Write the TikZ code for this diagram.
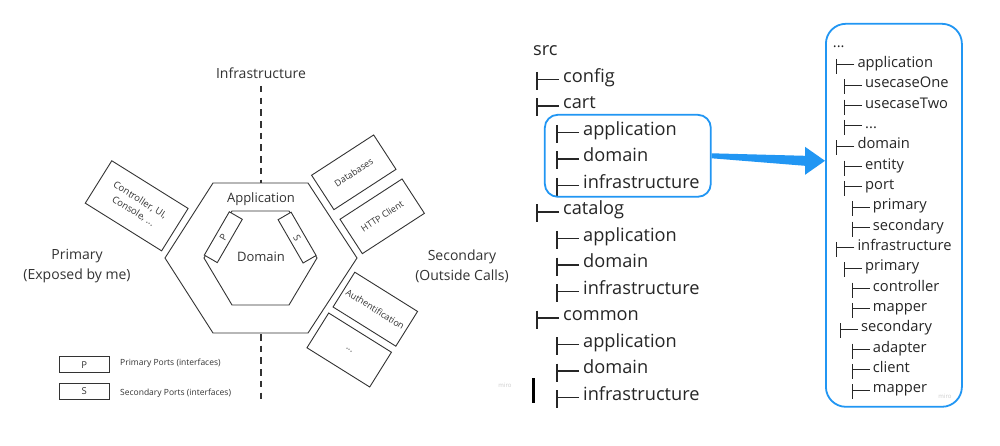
\documentclass[tikz,border=0pt]{standalone}
\usepackage{fontspec}
\setmainfont{Open Sans}
\usetikzlibrary{arrows.meta}
\definecolor{miroblue}{RGB}{33,150,243}
\definecolor{ink}{RGB}{51,51,51}

\begin{document}
\begin{tikzpicture}[x=1pt, y=-1pt,
	shape line/.style={draw=ink, line width=0.9pt},
	label text/.style={text=ink, align=center, font=\fontsize{14}{20}\selectfont},
	adapter/.style={draw=ink, line width=0.9pt, fill=white, minimum width=74, minimum height=41, inner sep=0pt, align=center, text=ink, font=\fontsize{9}{12.8}\selectfont},
	port/.style={draw=ink, line width=0.9pt, fill=white, minimum width=50, minimum height=15, inner sep=0pt, text=ink, font=\fontsize{9.5}{11}\selectfont},
	legend text/.style={anchor=mid west, inner sep=0pt, text=ink, font=\fontsize{8.5}{10}\selectfont},
	axis line/.style={ink, line width=2pt, dash pattern=on 6.5pt off 5.2pt},
	midtree/.style={anchor=mid west, inner sep=0pt, text=black!85, font=\fontsize{18.2}{22}\selectfont},
	righttree/.style={anchor=mid west, inner sep=0pt, text=black!85, font=\fontsize{14.7}{18}\selectfont},
	tee/.style={black!85, line width=1.3pt},
	bluebox/.style={draw=miroblue, line width=1.8pt, inner sep=0pt},
	watermark/.style={text=black!20, font=\fontsize{6}{7}\selectfont}
]
	\useasboundingbox (0,0) rectangle (1000,446);
	\fill[white] (0,0) rectangle (1000,446);
	
	% hexagon
	\draw[axis line] (261,86) -- (261,183);
	\draw[axis line] (261,334) -- (261,399);
	\draw[shape line] (213,183) -- (308,183) -- (357,258) -- (308,333) -- (213,333) -- (165,258) -- cycle;
	\draw[shape line] (232,211) -- (289,211) -- (317,258) -- (289,305) -- (232,305) -- (204,258) -- cycle;
	
	\node[label text] (infra) at (261,73) {Infrastructure};
	\node[label text, font=\fontsize{13}{16}\selectfont] (app) at (261,199) {Application};
	\node[label text, font=\fontsize{13}{16}\selectfont] (dom) at (261,257) {Domain};
	\node[label text] (primary) at (77,266) {Primary\\(Exposed by me)};
	\node[label text] (secondary) at (462,266) {Secondary\\(Outside Calls)};
	
	\node[port, rotate=60] (pport) at (223.3,237.2) {P};
	\node[port, rotate=-60] (sport) at (297.1,237.6) {S};
	
	\node[adapter, rotate=-32, minimum width=90, minimum height=50, font=\fontsize{9.5}{12.8}\selectfont] (ui) at (136.7,205.8) {Controller, UI,\\Console, ...};
	\node[adapter, rotate=33] (db) at (353.8,172.3) {Databases};
	\node[adapter, rotate=33] (http) at (382.2,216.3) {HTTP Client};
	\node[adapter, rotate=-32] (auth) at (375.3,309.2) {Authentification};
	\node[adapter, rotate=-32] (more) at (349.2,350) {...};
	
	% legend
	\node[port, minimum height=16] (legP) at (84.3,364.7) {P};
	\node[port, minimum height=16] (legS) at (84.3,391.3) {S};
	\node[legend text] (legPtext) at (120,363.3) {Primary Ports (interfaces)};
	\node[legend text] (legStext) at (120,392.7) {Secondary Ports (interfaces)};
	
	% package tree
	\node[midtree] (src) at (533,53) {src};
	\foreach \n/\lvl/\row/\txt in {config/1/1/config, cart/1/2/cart, cart-app/2/3/application, cart-dom/2/4/domain, cart-inf/2/5/infrastructure, catalog/1/6/catalog, cat-app/2/7/application, cat-dom/2/8/domain, cat-inf/2/9/infrastructure, common/1/10/common, com-app/2/11/application, com-dom/2/12/domain, com-inf/2/13/infrastructure}
	{
		\node[midtree] (\n) at ({543+20*\lvl},{53+26.5*\row}) {\txt};
		\draw[tee] ([xshift=-4pt]\n.mid west) -- ++(-22pt,0pt) ++(0pt,7.5pt) -- ++(0pt,-18pt);
	}
	\draw[line width=3pt] (533.3,378) -- (533.3,403.3);
	\node[watermark] (wm1) at (505,385) {miro};
	
	\node[bluebox, rounded corners=13pt, minimum width=166, minimum height=82] (cartsel) at (627.8,155.8) {};
	
	% detail of one module
	\node[bluebox, rounded corners=20pt, minimum width=136, minimum height=383] (detail) at (893.9,215.3) {};
	\node[righttree] (r-top) at (832.7,44.5) {...};
	\foreach \n/\x/\row/\txt in {r-app/857.3/1/application, r-uc1/865/2/usecaseOne, r-uc2/865/3/usecaseTwo, r-ucx/865/4/{...}, r-dom/857.3/5/domain, r-ent/865/6/entity, r-port/865/7/port, r-pri/872.7/8/primary, r-sec/872.7/9/secondary, r-inf/857.3/10/infrastructure, r-ipri/865/11/primary, r-ctrl/872.7/12/controller, r-map1/872.7/13/mapper, r-isec/861/14/secondary, r-adp/872.7/15/adapter, r-cli/872.7/16/client, r-map2/872.7/17/mapper}
	{
		\node[righttree] (\n) at (\x,{44.5+20.34*\row}) {\txt};
		\draw[tee, line width=1.1pt] ([xshift=-3pt]\n.mid west) -- ++(-17.5pt,0pt) ++(0pt,6pt) -- ++(0pt,-15pt);
	}
	\node[watermark] (wm2) at (945,396) {miro};
	
	% tapered arrow
	\coordinate (tip) at ([yshift=-5pt]cartsel.east -| detail.west);
	\fill[miroblue] ([yshift=2.5pt]cartsel.east) -- ([xshift=-20pt,yshift=5pt]tip) -- ([xshift=-20pt,yshift=14pt]tip) -- (tip) -- ([xshift=-20pt,yshift=-14pt]tip) -- ([xshift=-20pt,yshift=-5pt]tip) -- ([yshift=-2.5pt]cartsel.east) -- cycle;
\end{tikzpicture}
\end{document}
